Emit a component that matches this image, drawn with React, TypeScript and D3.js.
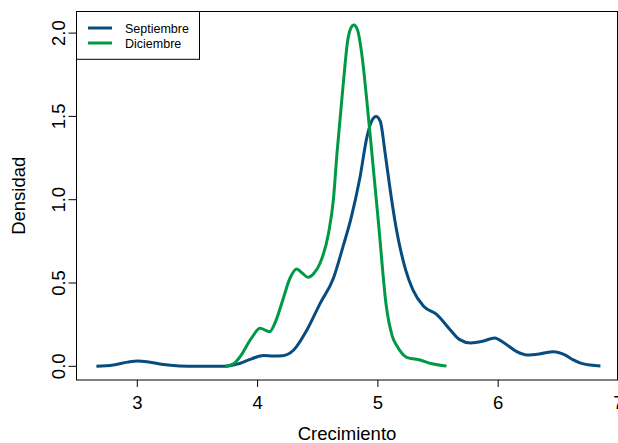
import React from "react";
import * as d3 from "d3";

// density curves: [crecimiento, densidad]
const septiembre: [number, number][] = [
  [2.66, 0], [2.8, 0.008], [2.92, 0.025], [3.0, 0.032], [3.08, 0.028], [3.2, 0.012],
  [3.35, 0.002], [3.5, 0], [3.75, 0.001], [3.855, 0.018], [3.95, 0.045], [4.05, 0.065],
  [4.13, 0.062], [4.21, 0.064], [4.3, 0.098], [4.41, 0.218], [4.52, 0.378], [4.63, 0.528],
  [4.71, 0.718], [4.78, 0.898], [4.85, 1.13], [4.91, 1.38], [4.95, 1.475], [4.985, 1.5],
  [5.02, 1.47], [5.06, 1.28], [5.1, 1.07], [5.14, 0.88], [5.23, 0.58], [5.29, 0.46],
  [5.38, 0.36], [5.49, 0.31], [5.6, 0.22], [5.68, 0.16], [5.77, 0.14], [5.87, 0.15],
  [5.97, 0.17], [6.05, 0.14], [6.15, 0.09], [6.24, 0.068], [6.35, 0.075], [6.46, 0.088],
  [6.55, 0.07], [6.62, 0.04], [6.7, 0.016], [6.85, 0.002],
];

const diciembre: [number, number][] = [
  [3.73, 0], [3.8, 0.015], [3.855, 0.058], [3.95, 0.17], [4.02, 0.228], [4.1, 0.208],
  [4.15, 0.27], [4.21, 0.4], [4.27, 0.53], [4.325, 0.584], [4.37, 0.56], [4.42, 0.534],
  [4.47, 0.56], [4.52, 0.62], [4.59, 0.8], [4.63, 1.0], [4.66, 1.28], [4.71, 1.68],
  [4.75, 1.96], [4.775, 2.03], [4.8, 2.049], [4.83, 2.02], [4.865, 1.88], [4.91, 1.58],
  [4.95, 1.28], [5.005, 0.86], [5.07, 0.36], [5.12, 0.18], [5.16, 0.12], [5.24, 0.054],
  [5.35, 0.038], [5.45, 0.015], [5.57, 0.002],
];

const xTicks = [3, 4, 5, 6, 7];
const yTicks = [0, 0.5, 1, 1.5, 2];
const series = [
  { name: "Septiembre", data: septiembre, color: "#084C7F" },
  { name: "Diciembre", data: diciembre, color: "#009A46" },
];

const W = 618;
const H = 443;
const font = "Liberation Sans, Arial, Helvetica, sans-serif";

export default function App() {
  const box = { left: 76.5, top: 11.5, right: 617.5, bottom: 380 };

  const x = d3.scaleLinear().domain([3, 7]).range([137.3, 618.5]);
  const y = d3.scaleLinear().domain([0, 2]).range([366.3, 33.1]);

  const line = d3
    .line<[number, number]>()
    .x((d) => x(d[0]))
    .y((d) => y(d[1]))
    .curve(d3.curveMonotoneX);

  return (
    <svg
      width={W}
      height={H}
      style={{ position: "absolute", left: 0, top: 0, background: "#fff" }}
      fontFamily={font}
    >
      {series.map((s) => (
        <path key={s.name} d={line(s.data) ?? ""} fill="none" stroke={s.color} strokeWidth={3} strokeLinejoin="round" />
      ))}

      <rect
        x={box.left}
        y={box.top}
        width={box.right - box.left}
        height={box.bottom - box.top}
        fill="none"
        stroke="#000"
        strokeWidth={1}
      />

      {/* x axis */}
      {xTicks.map((t) => (
        <g key={t}>
          <line x1={x(t)} x2={x(t)} y1={box.bottom} y2={box.bottom + 7} stroke="#000" />
          <text x={x(t)} y={409} textAnchor="middle" fontSize={18.5}>
            {t}
          </text>
        </g>
      ))}
      <text x={(box.left + box.right) / 2} y={439.5} textAnchor="middle" fontSize={18.5}>
        Crecimiento
      </text>

      {/* y axis */}
      {yTicks.map((t) => (
        <g key={t}>
          <line x1={box.left - 8} x2={box.left} y1={y(t)} y2={y(t)} stroke="#000" />
          <text
            transform={`translate(64.7,${y(t)}) rotate(-90)`}
            textAnchor="middle"
            fontSize={18.5}
          >
            {d3.format(".1f")(t)}
          </text>
        </g>
      ))}
      <text
        transform={`translate(25,${(box.top + box.bottom) / 2}) rotate(-90)`}
        textAnchor="middle"
        fontSize={18.5}
      >
        Densidad
      </text>

      {/* legend */}
      <rect x={76.5} y={11.5} width={123} height={47.8} fill="#fff" stroke="#000" />
      {series.map((s, i) => (
        <g key={s.name}>
          <line x1={88} x2={112} y1={28 + i * 15} y2={28 + i * 15} stroke={s.color} strokeWidth={3} />
          <text x={125} y={32.5 + i * 15} fontSize={12.5}>
            {s.name}
          </text>
        </g>
      ))}
    </svg>
  );
}
